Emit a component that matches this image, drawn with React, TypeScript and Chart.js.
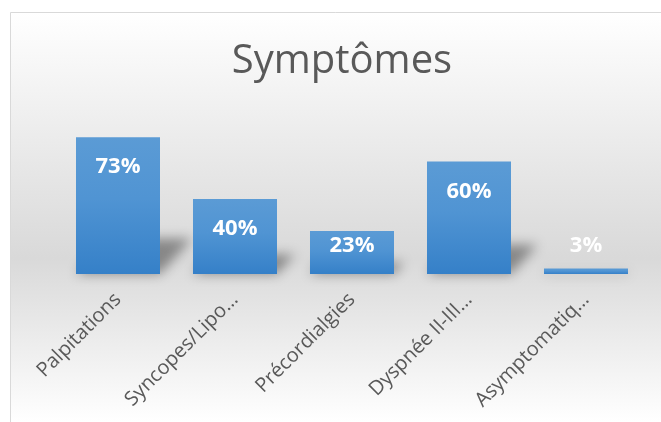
import React, { useEffect, useRef } from "react";
import { Chart, registerables } from "chart.js";

Chart.register(...registerables);

const chartTitle = "Symptômes";
const categories = [
  "Palpitations",
  "Syncopes/Lipo…",
  "Précordialgies",
  "Dyspnée II-III…",
  "Asymptomatiq…",
];
const percentages = [73, 40, 23, 60, 3];
const axisMax = 80;

const FONT = "'Open Sans', 'DejaVu Sans', sans-serif";
const TEXT_GREY = "#595959";

// Page background: white frame with a grey band behind the bars
const backgroundPlugin = {
  id: "panelBackground",
  beforeDraw(chart: any) {
    const { ctx, width, height } = chart;
    ctx.save();
    ctx.fillStyle = "#ffffff";
    ctx.fillRect(0, 0, width, height);
    const g = ctx.createLinearGradient(0, 12, 0, height);
    g.addColorStop(0, "#ffffff");
    g.addColorStop(0.6, "#d9d9d9");
    g.addColorStop(1, "#ffffff");
    ctx.fillStyle = g;
    ctx.fillRect(10, 12, width, height);
    ctx.strokeStyle = "#d9d9d9";
    ctx.lineWidth = 1;
    ctx.beginPath();
    ctx.moveTo(10.5, height);
    ctx.lineTo(10.5, 12.5);
    ctx.lineTo(width, 12.5);
    ctx.stroke();
    ctx.restore();
  },
};

// Title centred on the framed panel
const titlePlugin = {
  id: "panelTitle",
  afterDraw(chart: any) {
    const { ctx } = chart;
    ctx.save();
    ctx.font = `normal 40px ${FONT}`;
    ctx.fillStyle = TEXT_GREY;
    ctx.textAlign = "center";
    ctx.textBaseline = "alphabetic";
    ctx.fillText(chartTitle, 342, 73);
    ctx.restore();
  },
};

// Soft perspective shadow cast up and to the right of each bar
const barShadowPlugin = {
  id: "barShadow",
  beforeDatasetsDraw(chart: any) {
    const { ctx } = chart;
    const meta = chart.getDatasetMeta(0);
    ctx.save();
    ctx.filter = "blur(6px)";
    ctx.fillStyle = "rgba(0,0,0,0.38)";
    meta.data.forEach((bar: any) => {
      const left = bar.x - bar.width / 2;
      const right = bar.x + bar.width / 2;
      const h = bar.base - bar.y;
      const sh = h * 0.26;
      const skew = sh * 0.9;
      ctx.beginPath();
      ctx.moveTo(left, bar.base);
      ctx.lineTo(right, bar.base);
      ctx.lineTo(right + skew, bar.base - sh);
      ctx.lineTo(left + skew, bar.base - sh);
      ctx.closePath();
      ctx.fill();
    });
    ctx.restore();
  },
};

// White percentage labels near the top of each bar
const valueLabelPlugin = {
  id: "valueLabels",
  afterDatasetsDraw(chart: any) {
    const { ctx } = chart;
    const meta = chart.getDatasetMeta(0);
    ctx.save();
    ctx.font = `bold 22px ${FONT}`;
    ctx.fillStyle = "#ffffff";
    ctx.textAlign = "center";
    ctx.textBaseline = "middle";
    meta.data.forEach((bar: any, i: number) => {
      const y = Math.min(bar.y + 30, bar.base - 28);
      ctx.fillText(`${percentages[i]}%`, bar.x, y);
    });
    ctx.restore();
  },
};

function barGradient(context: any) {
  const chart = context.chart;
  const yScale = chart.scales.y;
  if (!chart.chartArea || !yScale) return "#4a8fd0";
  const top = yScale.getPixelForValue(context.raw);
  const base = yScale.getPixelForValue(0);
  const g = chart.ctx.createLinearGradient(0, top, 0, base);
  g.addColorStop(0, "#5b9bd5");
  g.addColorStop(0.45, "#5094d3");
  g.addColorStop(1, "#3580c8");
  return g;
}

export default function App() {
  const canvasRef = useRef<HTMLCanvasElement | null>(null);

  useEffect(() => {
    if (!canvasRef.current) return;
    const chart = new Chart(canvasRef.current, {
      type: "bar",
      data: {
        labels: categories,
        datasets: [
          {
            data: percentages,
            backgroundColor: barGradient,
            borderWidth: 0,
            categoryPercentage: 1,
            barPercentage: 0.718,
          },
        ],
      },
      options: {
        responsive: false,
        devicePixelRatio: 1,
        animation: false,
        layout: { padding: { left: 59.5, right: 16.5, top: 124, bottom: 0 } },
        plugins: {
          legend: { display: false },
          tooltip: { enabled: false },
          title: { display: false },
        },
        scales: {
          x: {
            grid: { display: false, drawTicks: false },
            border: { display: false },
            ticks: {
              color: TEXT_GREY,
              font: { family: FONT, size: 20 },
              minRotation: 45,
              maxRotation: 45,
              autoSkip: false,
              padding: 14,
            },
            afterFit(scale: any) {
              scale.height = 148;
            },
          },
          y: {
            display: false,
            min: 0,
            max: axisMax,
          },
        },
      },
      plugins: [backgroundPlugin, barShadowPlugin, valueLabelPlugin, titlePlugin],
    });
    return () => chart.destroy();
  }, []);

  return (
    <div style={{ position: "fixed", left: 0, top: 0, width: 661, height: 422 }}>
      <canvas ref={canvasRef} width={661} height={422} style={{ display: "block" }} />
    </div>
  );
}
